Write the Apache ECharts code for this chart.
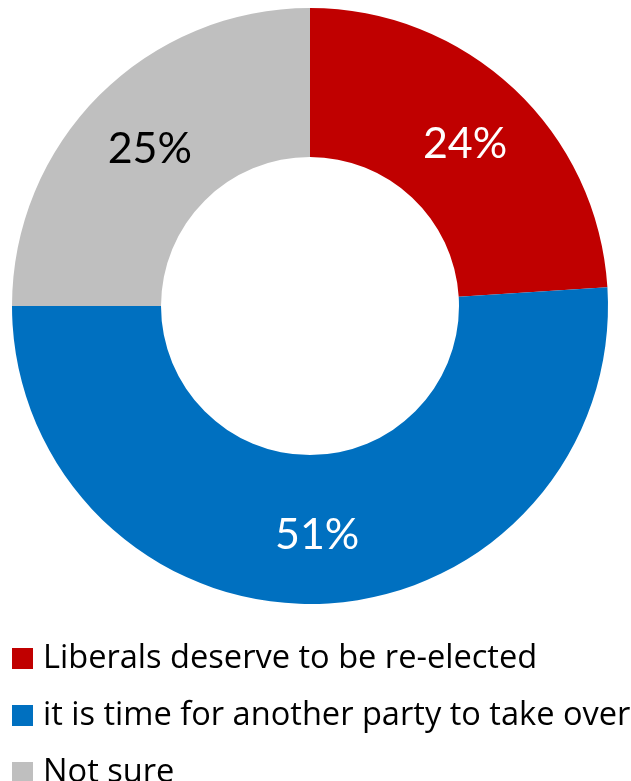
<!DOCTYPE html>
<html>
<head>
<meta charset="utf-8">
<script src="https://cdn.jsdelivr.net/npm/echarts@6/dist/echarts.min.js"></script>
<style>
html,body{margin:0;padding:0;background:#fff;}
#chart{width:631px;height:781px;}
</style>
</head>
<body>
<div id="chart"></div>
<script>
var categories = ['Liberals deserve to be re-elected', 'it is time for another party to take over', 'Not sure'];
var values = [24, 51, 25];
var colors = ['#C00000', '#0070C0', '#BFBFBF'];
var labelColors = ['#FFFFFF', '#FFFFFF', '#000000'];

var chart = echarts.init(document.getElementById('chart'), null, {renderer: 'canvas'});
var data = categories.map(function (c, i) {
  return {
    name: c,
    value: values[i],
    itemStyle: {color: colors[i]},
    label: {color: labelColors[i]}
  };
});
chart.setOption({
  animation: false,
  backgroundColor: '#ffffff',
  legend: {
    orient: 'vertical',
    left: 12,
    top: 642,
    height: 200,
    padding: 0,
    itemWidth: 21,
    itemHeight: 21,
    itemGap: 24,
    icon: 'rect',
    selectedMode: false,
    textStyle: {
      fontFamily: 'Open Sans',
      fontSize: 32.6,
      color: '#000000',
      padding: [0, 0, 0, 5]
    },
    data: categories
  },
  series: [{
    type: 'pie',
    center: [310, 306],
    radius: [149, 298],
    startAngle: 90,
    clockwise: true,
    avoidLabelOverlap: false,
    label: {
      show: true,
      position: 'inside',
      formatter: '{c}%',
      fontFamily: 'Lato',
      fontSize: 43,
      offset: [0, 3]
    },
    labelLine: {show: false},
    emphasis: {disabled: true},
    itemStyle: {borderWidth: 0},
    data: data
  }]
});
</script>
</body>
</html>
